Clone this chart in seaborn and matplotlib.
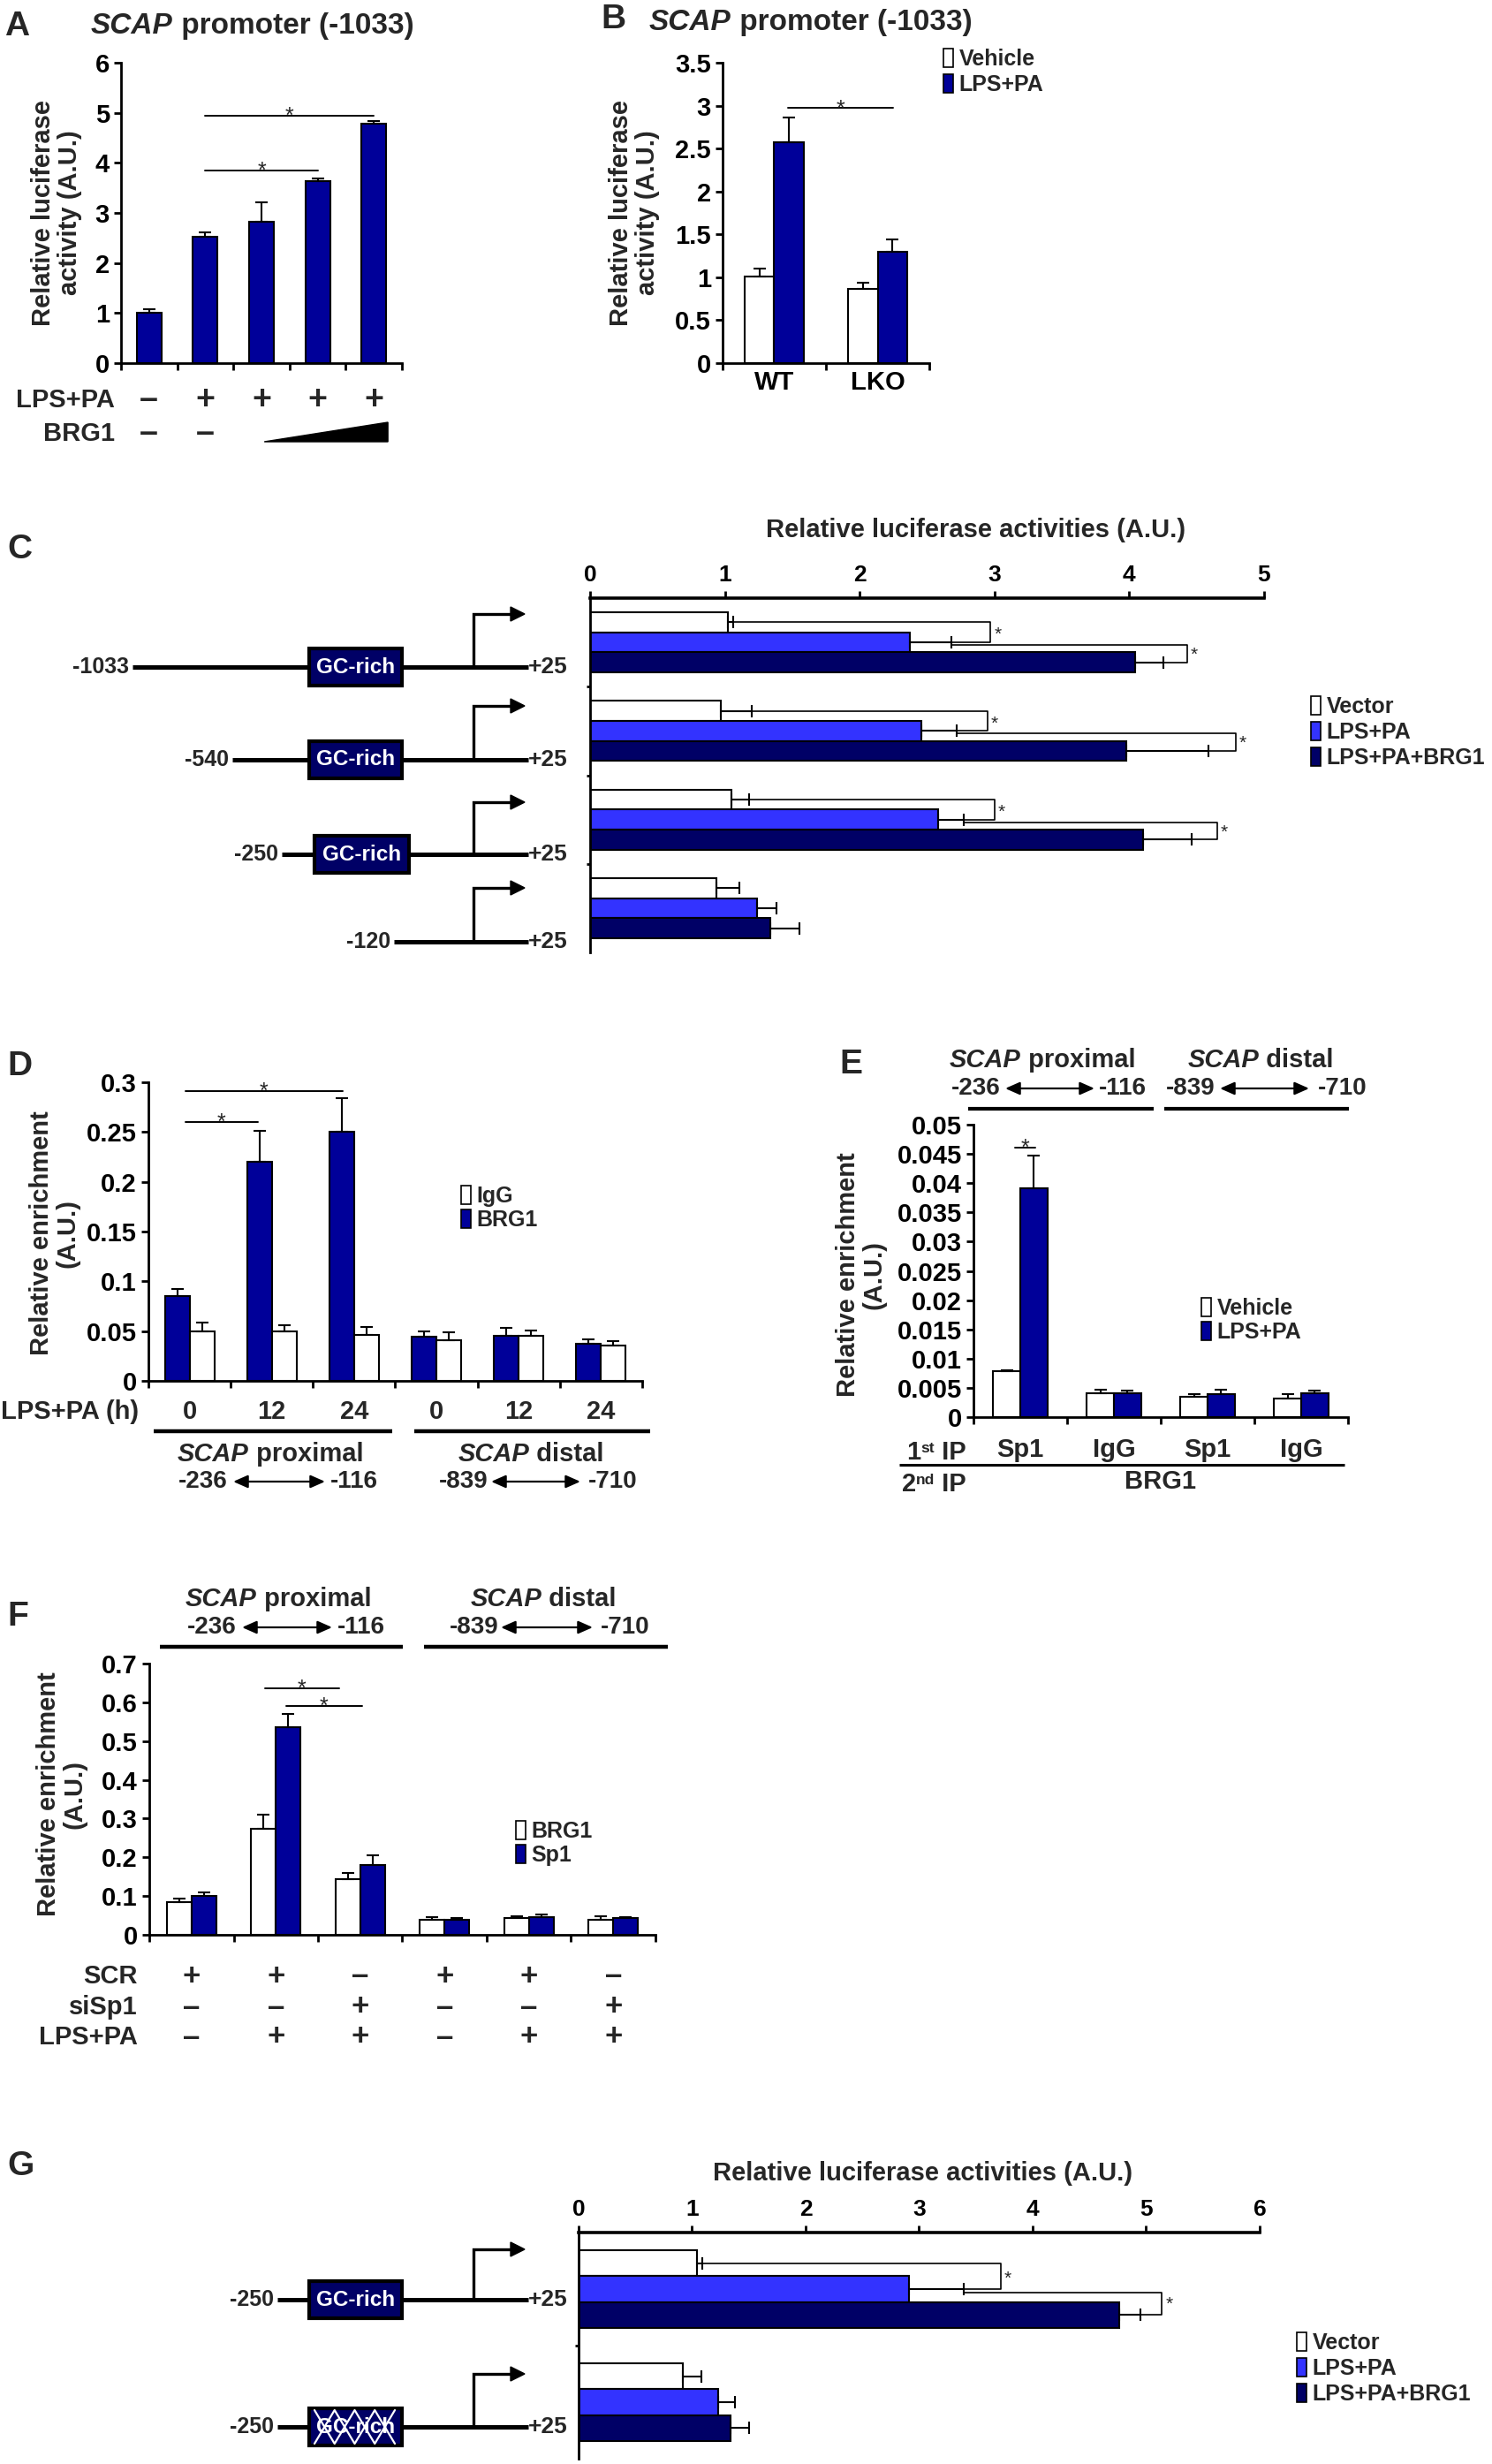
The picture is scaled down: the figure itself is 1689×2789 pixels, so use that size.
import numpy as np
import pandas as pd
import matplotlib
matplotlib.use("Agg")
import matplotlib.pyplot as plt
import seaborn as sns
from matplotlib.patches import Patch, Rectangle, Polygon
from matplotlib.ticker import FuncFormatter

# ---------------- values ----------------
# A: SCAP promoter (-1033), BRG1 dose
a_groups = ["1", "2", "3", "4", "5"]
a_mean = [1.00, 2.52, 2.83, 3.63, 4.78]
a_err = [0.08, 0.10, 0.38, 0.05, 0.06]
a_lps = ["–", "+", "+", "+", "+"]
a_brg1 = ["–", "–"]
a_sig = [(1, 3, 3.85), (1, 4, 4.95)]

# B: WT vs LKO
b_groups = ["WT", "LKO"]
b_vehicle = [1.01, 0.86]
b_vehicle_err = [0.09, 0.08]
b_lps = [2.57, 1.30]
b_lps_err = [0.29, 0.14]
b_sig = (0.13, 1.15, 2.97)

# C: deletion constructs
c_constructs = ["-1033", "-540", "-250", "-120"]
c_vector = [1.02, 0.97, 1.05, 0.94]
c_vector_err = [0.04, 0.23, 0.13, 0.17]
c_lps = [2.37, 2.46, 2.58, 1.24]
c_lps_err = [0.31, 0.26, 0.19, 0.14]
c_brg1 = [4.04, 3.98, 4.10, 1.34]
c_brg1_err = [0.21, 0.61, 0.36, 0.21]
c_bracket1 = [2.97, 2.95, 3.00]
c_bracket2 = [4.43, 4.79, 4.65]

# D: ChIP time course
d_hours = ["0", "12", "24", "0", "12", "24"]
d_brg1 = [0.085, 0.220, 0.250, 0.044, 0.045, 0.037]
d_brg1_err = [0.007, 0.031, 0.034, 0.006, 0.008, 0.005]
d_igg = [0.050, 0.050, 0.046, 0.041, 0.045, 0.0355]
d_igg_err = [0.009, 0.006, 0.008, 0.008, 0.006, 0.0045]
d_sig = [(-0.05, 0.83, 0.26), (-0.05, 1.86, 0.291)]

# E: Re-ChIP
e_first_ip = ["Sp1", "IgG", "Sp1", "IgG"]
e_vehicle = [0.0078, 0.0041, 0.0034, 0.0031]
e_vehicle_err = [0.0002, 0.0006, 0.0005, 0.0008]
e_lps = [0.0391, 0.0041, 0.0039, 0.0041]
e_lps_err = [0.0056, 0.0004, 0.0008, 0.0004]
e_sig = (-0.06, 0.16, 0.0461)

# F: Sp1 knockdown
f_scr = ["+", "+", "–", "+", "+", "–"]
f_sisp1 = ["–", "–", "+", "–", "–", "+"]
f_lps = ["–", "+", "+", "–", "+", "+"]
f_brg1 = [0.085, 0.274, 0.143, 0.039, 0.043, 0.039]
f_brg1_err = [0.008, 0.035, 0.016, 0.007, 0.006, 0.010]
f_sp1 = [0.0995, 0.536, 0.180, 0.039, 0.046, 0.043]
f_sp1_err = [0.010, 0.034, 0.025, 0.004, 0.007, 0.003]
f_sig = [(0.87, 1.75, 0.637), (1.12, 2.02, 0.59)]

# G: GC-rich mutant
g_constructs = ["wt", "mut"]
g_vector = [1.04, 0.92]
g_vector_err = [0.05, 0.16]
g_lps = [2.91, 1.23]
g_lps_err = [0.48, 0.15]
g_brg1 = [4.76, 1.34]
g_brg1_err = [0.19, 0.16]
g_bracket1 = [3.72]
g_bracket2 = [5.14]

COND = ["Vector", "LPS+PA", "LPS+PA+BRG1"]
NAVY = "#000099"
BRIGHT = "#3333ff"
DARK = "#000066"

sns.set_style("ticks")
plt.rcParams["font.family"] = ["Liberation Sans", "DejaVu Sans"]
plt.rcParams["font.weight"] = "bold"
plt.rcParams["axes.linewidth"] = 2.0
plt.rcParams["axes.edgecolor"] = "black"
plt.rcParams["xtick.color"] = "black"
plt.rcParams["ytick.color"] = "black"
plt.rcParams["xtick.major.width"] = 2.0
plt.rcParams["ytick.major.width"] = 2.0
plt.rcParams["xtick.major.size"] = 6
plt.rcParams["ytick.major.size"] = 6
plt.rcParams["xtick.labelsize"] = 21
plt.rcParams["ytick.labelsize"] = 21

W, H = 1690, 2789
fig = plt.figure(figsize=(W / 100, H / 100), dpi=100)
renderer = fig.canvas.get_renderer()

# overlay in pixel coordinates (y down) for labels and drawings
ov = fig.add_axes([0, 0, 1, 1], zorder=20)
ov.set_xlim(0, W)
ov.set_ylim(H, 0)
ov.axis("off")


def add_ax(left, top, right, bottom):
    return fig.add_axes([left / W, 1 - bottom / H, (right - left) / W, (bottom - top) / H])


def ftext(x, y, s, size=21, **kw):
    kw.setdefault("fontweight", "bold")
    kw.setdefault("ha", "center")
    kw.setdefault("va", "center")
    return ov.text(x, y, s, fontsize=size, **kw)


def to_px(ax, x, y):
    X, Y = ax.transData.transform((x, y))
    return X, H - Y


def runs(x, yc, parts, size=21, ha="left"):
    # parts: (text, style, dy, scale) laid out on one baseline
    base = yc + 0.36 * size * 100 / 72
    items = []
    for s, style, dy, scale in parts:
        t = ov.text(0, 0, s, fontsize=size * scale, fontweight="bold", style=style,
                    ha="left", va="baseline")
        items.append((t, dy, t.get_window_extent(renderer).width))
    total = sum(w for _, _, w in items)
    cur = {"left": x, "center": x - total / 2, "right": x - total}[ha]
    for t, dy, w in items:
        t.set_position((cur, base + dy))
        cur += w


def scap(x, yc, rest, size=21, ha="center"):
    runs(x, yc, [("SCAP", "italic", 0, 1), (" " + rest, "normal", 0, 1)], size=size, ha=ha)


def bar_errors(ax, errs, horizontal=False):
    nh = len(errs)
    if horizontal:
        bars = sorted(ax.patches, key=lambda p: p.get_y() + p.get_height() / 2)
    else:
        bars = sorted(ax.patches, key=lambda p: p.get_x() + p.get_width() / 2)
    pos = {}
    for k, p in enumerate(bars):
        c, h = divmod(k, nh)
        e = errs[h][c]
        if horizontal:
            mid, v = p.get_y() + p.get_height() / 2, p.get_width()
            ax.errorbar(v, mid, xerr=[[0], [e]], fmt="none", ecolor="black",
                        elinewidth=1.5, capsize=5, capthick=1.5, zorder=3)
        else:
            mid, v = p.get_x() + p.get_width() / 2, p.get_height()
            ax.errorbar(mid, v, yerr=[[0], [e]], fmt="none", ecolor="black",
                        elinewidth=1.5, capsize=5, capthick=1.5, zorder=3)
        pos[(c, h)] = (mid, v, v + e)
    return pos


def sig_line(ax, x0, x1, y):
    ax.plot([x0, x1], [y, y], color="black", lw=1.4, clip_on=False)
    X, Y = to_px(ax, (x0 + x1) / 2, y)
    ftext(X, Y + 8, "*", size=18, fontweight="normal", va="baseline")


def legend_at(ax, labels, colors, x, ytop, size=18, spacing=0.2):
    handles = [Patch(facecolor=c, edgecolor="black", linewidth=1.2) for c in colors]
    ax.legend(handles=handles, labels=labels, loc="upper left",
              bbox_to_anchor=(x / W, 1 - ytop / H), bbox_transform=fig.transFigure,
              frameon=False, handlelength=0.45, handleheight=0.9, handletextpad=0.25,
              labelspacing=spacing, borderpad=0, borderaxespad=0,
              prop={"weight": "bold", "size": size})


def arrow_row(y, left_lab, x_r, a0, a1, right_lab, x_l, size=20):
    ftext(x_r, y, left_lab, size=size, ha="right")
    ftext(x_l, y, right_lab, size=size, ha="left")
    ov.annotate("", xy=(a1, y), xytext=(a0, y),
                arrowprops=dict(arrowstyle="<|-|>,head_length=0.5,head_width=0.22",
                                lw=1.6, color="black", shrinkA=0, shrinkB=0,
                                mutation_scale=20))


def hline(x0, x1, y, lw=3.0):
    ov.plot([x0, x1], [y, y], color="black", lw=lw, solid_capstyle="butt")


def vertical_axes(ax, ncat, ymax, step):
    ax.set_xlim(-0.5, ncat - 0.5)
    ax.set_ylim(0, ymax)
    ax.set_yticks(np.arange(0, ymax + step / 2, step))
    ax.yaxis.set_major_formatter(FuncFormatter(lambda v, p: f"{v:g}"))
    ax.set_xticks(np.arange(-0.5, ncat, 1))
    ax.set_xticklabels([])
    ax.set_xlabel("")
    ax.set_ylabel("")
    sns.despine(ax=ax)


def lucif_axes(ax, n, xmax):
    ax.set_xlim(0, xmax)
    ax.set_ylim(n - 0.5, -0.5)
    ax.xaxis.tick_top()
    ax.set_xticks(range(xmax + 1))
    ax.set_yticks(np.arange(0.5, n - 0.5, 1))
    ax.set_yticklabels([])
    ax.tick_params(axis="y", length=3)
    ax.tick_params(axis="x", labelsize=19, pad=4)
    ax.set_xlabel("")
    ax.set_ylabel("")
    ax.spines["bottom"].set_visible(False)
    ax.spines["right"].set_visible(False)
    ax.spines["top"].set_linewidth(2.6)


def brackets(ax, pos, b1, b2):
    for c in range(len(b1)):
        yv, _, ev = pos[(c, 0)]
        yl, _, el = pos[(c, 1)]
        yb, _, eb = pos[(c, 2)]
        ax.plot([ev, b1[c], b1[c], el], [yv, yv, yl, yl], color="black", lw=1.2,
                clip_on=False)
        ax.plot([el, b2[c], b2[c], eb], [yl + 0.03, yl + 0.03, yb, yb], color="black",
                lw=1.2, clip_on=False)
        for bx, ym in [(b1[c], (yv + yl) / 2), (b2[c], (yl + yb) / 2)]:
            X, Y = to_px(ax, bx, ym)
            ftext(X + 8, Y + 3, "*", size=15, fontweight="normal")


def promoter(lab, lab_r, y, top, box=None, mutated=False):
    ftext(lab_r, y, lab, size=18, ha="right")
    hline(lab_r + 4, 598, y, lw=3.6)
    ftext(598, y, "+25", size=19, ha="left")
    ov.plot([536, 536, 580], [y, top, top], color="black", lw=2.4, solid_joinstyle="miter")
    ov.add_patch(Polygon([[578, top - 8], [594, top], [578, top + 8]], closed=True,
                         color="black"))
    if box is not None:
        x0, x1 = box
        ov.add_patch(Rectangle((x0, y - 21), x1 - x0, 42, facecolor=DARK,
                               edgecolor="black", lw=3, zorder=3))
        ftext((x0 + x1) / 2, y, "GC-rich", size=17.5, color="white", zorder=4)
        if mutated:
            xs = np.linspace(x0 + 6, x1 - 8, 5)
            up = [y - 19, y + 19, y - 19, y + 19, y - 19]
            dn = [y + 19, y - 19, y + 19, y - 19, y + 19]
            ov.plot(xs, up, color="white", lw=1.6, zorder=5)
            ov.plot(xs, dn, color="white", lw=1.6, zorder=5)


def lucif_bars(ax, names, vec, lps, brg):
    n = len(names)
    df = pd.DataFrame({"construct": np.tile(names, 3),
                       "cond": np.repeat(COND, n),
                       "value": vec + lps + brg})
    sns.barplot(data=df, x="value", y="construct", hue="cond", hue_order=COND,
                palette=dict(zip(COND, ["white", BRIGHT, DARK])), orient="h",
                width=0.68, saturation=1, edgecolor="black", linewidth=1.5,
                errorbar=None, legend=False, ax=ax)


# ================= A =================
ftext(5, 30, "A", size=28, ha="left")
scap(103, 26, "promoter (-1033)", size=24, ha="left")
axA = add_ax(137, 71, 455, 411)
sns.barplot(x=a_groups, y=a_mean, color=NAVY, saturation=1, width=0.44,
            edgecolor="black", linewidth=1.5, errorbar=None, ax=axA)
vertical_axes(axA, len(a_groups), 6, 1)
pos_a = bar_errors(axA, [a_err])
for i, j, y in a_sig:
    sig_line(axA, pos_a[(i, 0)][0], pos_a[(j, 0)][0], y)
ftext(64, 241, "Relative luciferase\nactivity (A.U.)", size=21, rotation=90,
      linespacing=1.05)
ftext(130, 453, "LPS+PA", size=21, ha="right")
ftext(130, 491, "BRG1", size=21, ha="right")
for i, s in enumerate(a_lps):
    ftext(to_px(axA, i, 0)[0], 453, s, size=27)
for i, s in enumerate(a_brg1):
    ftext(to_px(axA, i, 0)[0], 491, s, size=27)
wx0 = to_px(axA, 2.05, 0)[0]
wx1 = to_px(axA, 4.25, 0)[0]
ov.add_patch(Polygon([[wx0, 500], [wx1, 478], [wx1, 500]], closed=True, color="black"))

# ================= B =================
ftext(680, 22, "B", size=28, ha="left")
scap(735, 22, "promoter (-1033)", size=24, ha="left")
axB = add_ax(818, 71, 1052, 411)
df_b = pd.DataFrame({"genotype": b_groups * 2,
                     "treat": ["Vehicle"] * 2 + ["LPS+PA"] * 2,
                     "value": b_vehicle + b_lps})
sns.barplot(data=df_b, x="genotype", y="value", hue="treat",
            hue_order=["Vehicle", "LPS+PA"], palette={"Vehicle": "white", "LPS+PA": NAVY},
            width=0.58, saturation=1, edgecolor="black", linewidth=1.5,
            errorbar=None, legend=False, ax=axB)
vertical_axes(axB, 2, 3.5, 0.5)
axB.set_xticks([0, 1], minor=True)
axB.set_xticklabels(b_groups, minor=True)
axB.tick_params(axis="x", which="minor", length=0, labelsize=21, pad=6)
bar_errors(axB, [b_vehicle_err, b_lps_err])
sig_line(axB, *b_sig)
ftext(718, 241, "Relative luciferase\nactivity (A.U.)", size=21, rotation=90,
      linespacing=1.05)
legend_at(axB, ["Vehicle", "LPS+PA"], ["white", NAVY], 1068, 55, size=18)

# ================= C =================
ftext(8, 622, "C", size=28, ha="left")
ftext(1105, 600, "Relative luciferase activities (A.U.)", size=21)
axC = add_ax(668, 677, 1431, 1078)
lucif_bars(axC, c_constructs, c_vector, c_lps, c_brg1)
lucif_axes(axC, len(c_constructs), 5)
pos_c = bar_errors(axC, [c_vector_err, c_lps_err, c_brg1_err], horizontal=True)
brackets(axC, pos_c, c_bracket1, c_bracket2)
c_lab_right = [146, 259, 315, 442]
c_boxes = [(350, 455), (350, 455), (356, 463), None]
c_lines = [755, 860, 967, 1066]
c_tops = [695, 799, 908, 1005]
for i, name in enumerate(c_constructs):
    promoter(name, c_lab_right[i], c_lines[i], c_tops[i], c_boxes[i])
legend_at(axC, COND, ["white", BRIGHT, DARK], 1484, 788, size=18)

# ================= D =================
ftext(8, 1207, "D", size=28, ha="left")
axD = add_ax(168, 1225, 727, 1563)
nd = len(d_hours)
df_d = pd.DataFrame({"site": np.tile(np.arange(nd), 2),
                     "ab": np.repeat(["BRG1", "IgG"], nd),
                     "value": d_brg1 + d_igg})
sns.barplot(data=df_d, x="site", y="value", hue="ab", hue_order=["BRG1", "IgG"],
            palette={"BRG1": NAVY, "IgG": "white"}, width=0.6, saturation=1,
            edgecolor="black", linewidth=1.5, errorbar=None, legend=False, ax=axD)
vertical_axes(axD, nd, 0.3, 0.05)
bar_errors(axD, [d_brg1_err, d_igg_err])
for x0, x1, y in d_sig:
    sig_line(axD, x0, x1, y)
ftext(62, 1396, "Relative enrichment\n(A.U.)", size=21, rotation=90, linespacing=1.05)
legend_at(axD, ["IgG", "BRG1"], ["white", NAVY], 522, 1342, size=18, spacing=0.12)
ftext(157, 1598, "LPS+PA (h)", size=21, ha="right")
for i, s in enumerate(d_hours):
    ftext(to_px(axD, i, 0)[0], 1598, s, size=21)
hline(174, 444, 1620, lw=3.2)
hline(469, 736, 1620, lw=3.2)
scap(306, 1644, "proximal", size=21)
scap(601, 1644, "distal", size=21)
arrow_row(1677, "-236", 258, 264, 368, "-116", 374)
arrow_row(1677, "-839", 553, 556, 657, "-710", 666)

# ================= E =================
ftext(950, 1205, "E", size=28, ha="left")
scap(1180, 1198, "proximal", size=21)
scap(1427, 1198, "distal", size=21)
arrow_row(1232, "-236", 1133, 1138, 1239, "-116", 1244)
arrow_row(1232, "-839", 1376, 1381, 1482, "-710", 1492)
hline(1096, 1306, 1255, lw=3.0)
hline(1318, 1527, 1255, lw=3.0)
axE = add_ax(1102, 1273, 1526, 1604)
ne = len(e_first_ip)
df_e = pd.DataFrame({"ip": np.tile(np.arange(ne), 2),
                     "treat": np.repeat(["Vehicle", "LPS+PA"], ne),
                     "value": e_vehicle + e_lps})
sns.barplot(data=df_e, x="ip", y="value", hue="treat", hue_order=["Vehicle", "LPS+PA"],
            palette={"Vehicle": "white", "LPS+PA": NAVY}, width=0.58, saturation=1,
            edgecolor="black", linewidth=1.5, errorbar=None, legend=False, ax=axE)
vertical_axes(axE, ne, 0.05, 0.005)
bar_errors(axE, [e_vehicle_err, e_lps_err])
sig_line(axE, *e_sig)
ftext(975, 1443, "Relative enrichment\n(A.U.)", size=21, rotation=90, linespacing=1.05)
legend_at(axE, ["Vehicle", "LPS+PA"], ["white", NAVY], 1360, 1469, size=18, spacing=0.12)
runs(1094, 1641, [("1", "normal", 0, 1), ("st", "normal", -8, 0.6), (" IP", "normal", 0, 1)],
     size=21, ha="right")
for i, s in enumerate(e_first_ip):
    ftext(to_px(axE, i, 0)[0], 1641, s, size=21)
hline(1018, 1522, 1658, lw=2.2)
runs(1094, 1677, [("2", "normal", 0, 1), ("nd", "normal", -8, 0.6), (" IP", "normal", 0, 1)],
     size=21, ha="right")
ftext(1314, 1677, "BRG1", size=21)

# ================= F =================
ftext(8, 1830, "F", size=28, ha="left")
scap(315, 1808, "proximal", size=21)
scap(615, 1808, "distal", size=21)
arrow_row(1842, "-236", 268, 274, 376, "-116", 382)
arrow_row(1842, "-839", 565, 567, 671, "-710", 680)
hline(181, 456, 1864, lw=3.2)
hline(480, 756, 1864, lw=3.2)
axF = add_ax(169, 1883, 742, 2190)
nf = len(f_scr)
df_f = pd.DataFrame({"cond": np.tile(np.arange(nf), 2),
                     "ab": np.repeat(["BRG1", "Sp1"], nf),
                     "value": f_brg1 + f_sp1})
sns.barplot(data=df_f, x="cond", y="value", hue="ab", hue_order=["BRG1", "Sp1"],
            palette={"BRG1": "white", "Sp1": NAVY}, width=0.59, saturation=1,
            edgecolor="black", linewidth=1.5, errorbar=None, legend=False, ax=axF)
vertical_axes(axF, nf, 0.7, 0.1)
bar_errors(axF, [f_brg1_err, f_sp1_err])
for x0, x1, y in f_sig:
    sig_line(axF, x0, x1, y)
ftext(70, 2031, "Relative enrichment\n(A.U.)", size=21, rotation=90, linespacing=1.05)
legend_at(axF, ["BRG1", "Sp1"], ["white", NAVY], 584, 2061, size=18, spacing=0.12)
for lab, row, y in [("SCR", f_scr, 2237), ("siSp1", f_sisp1, 2272), ("LPS+PA", f_lps, 2306)]:
    ftext(156, y, lab, size=21, ha="right")
    for i, s in enumerate(row):
        ftext(to_px(axF, i, 0)[0], y, s, size=25)

# ================= G =================
ftext(8, 2452, "G", size=28, ha="left")
ftext(1045, 2460, "Relative luciferase activities (A.U.)", size=21)
axG = add_ax(655, 2527, 1426, 2783)
lucif_bars(axG, g_constructs, g_vector, g_lps, g_brg1)
lucif_axes(axG, len(g_constructs), 6)
pos_g = bar_errors(axG, [g_vector_err, g_lps_err, g_brg1_err], horizontal=True)
brackets(axG, pos_g, g_bracket1, g_bracket2)
g_lines = [2603, 2747]
g_tops = [2546, 2687]
for i in range(len(g_constructs)):
    promoter("-250", 310, g_lines[i], g_tops[i], (350, 455), mutated=(i == 1))
legend_at(axG, COND, ["white", BRIGHT, DARK], 1468, 2640, size=18)

fig.savefig("out.png", dpi=100)
